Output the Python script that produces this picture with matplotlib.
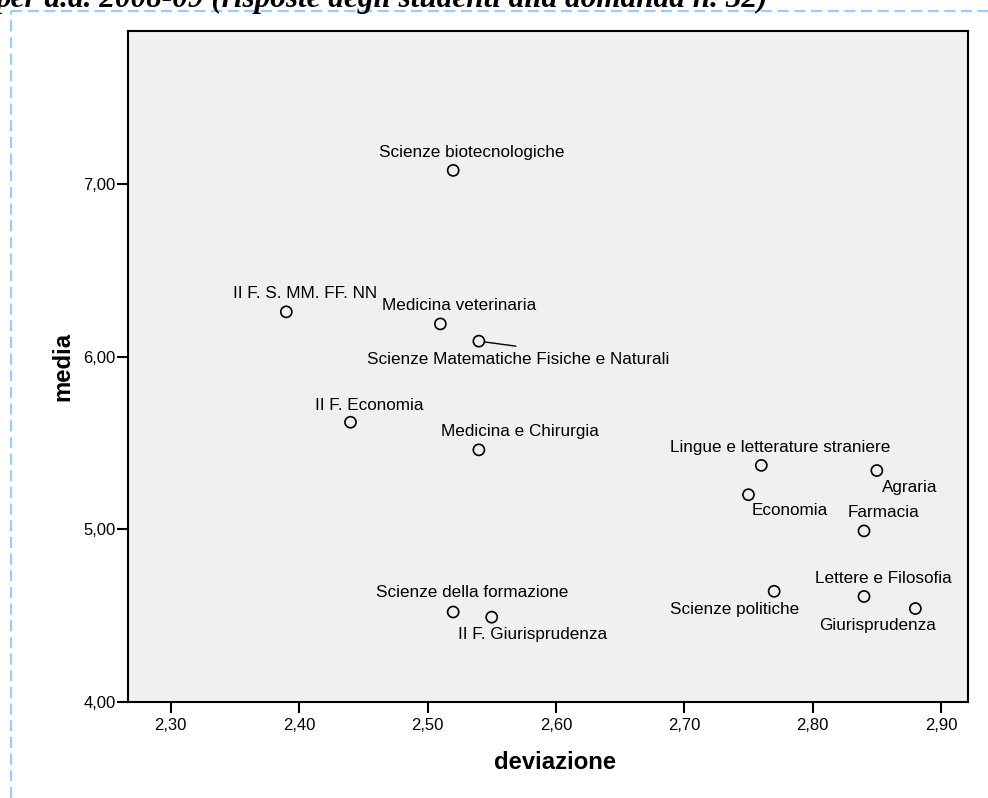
import matplotlib
matplotlib.use("Agg")
import matplotlib.pyplot as plt
from matplotlib.lines import Line2D

plt.rcParams["font.family"] = ["Liberation Sans", "DejaVu Sans"]

# Faculties: deviation (x) and mean score (y)
facolta = ["Scienze biotecnologiche", "II F. S. MM. FF. NN", "Medicina veterinaria",
           "Scienze Matematiche Fisiche e Naturali", "II F. Economia", "Medicina e Chirurgia",
           "Scienze della formazione", "II F. Giurisprudenza", "Lingue e letterature straniere",
           "Agraria", "Economia", "Farmacia", "Scienze politiche", "Lettere e Filosofia",
           "Giurisprudenza"]
deviazione = [2.52, 2.39, 2.51, 2.54, 2.44, 2.54, 2.52, 2.55, 2.76, 2.85, 2.75, 2.84, 2.77, 2.84, 2.88]
media = [7.08, 6.26, 6.19, 6.09, 5.62, 5.46, 4.52, 4.49, 5.37, 5.34, 5.20, 4.99, 4.64, 4.61, 4.54]

# label offsets from the point, in pixels (right, down)
offsets = [(19, -18), (19, -18), (19, -18), (39, 18), (19, -17), (41, -18),
           (19, -19), (41, 17), (19, -18), (33, 17), (41, 16), (19, -18),
           (-40, 18), (19, -18), (-38, 17)]

xticks = [2.30, 2.40, 2.50, 2.60, 2.70, 2.80, 2.90]
yticks = [4.0, 5.0, 6.0, 7.0]

fig = plt.figure(figsize=(9.88, 7.98), dpi=100)
px = 72 / fig.dpi

# dashed frame of the surrounding document and the clipped title
fig.add_artist(Line2D([11 / 988, 1], [1 - 11 / 798] * 2, transform=fig.transFigure,
                      color="#99ccff", lw=1.6, dashes=(5, 2.5)))
fig.add_artist(Line2D([11 / 988] * 2, [0, 1 - 11 / 798], transform=fig.transFigure,
                      color="#99ccff", lw=1.6, dashes=(5, 2.5)))
fig.text(768 / 988, 1 - 7 / 798, "per a.a. 2008-09 (risposte degli studenti alla domanda n. 32)",
         ha="right", va="baseline", fontsize=22.5, fontweight="bold", fontstyle="italic",
         family="Liberation Serif")

ax = fig.add_axes([128 / 988, 1 - 701.7 / 798, 840 / 988, 670.7 / 798])
ax.set_facecolor("#f0f0f0")
ax.scatter(deviazione, media, s=64, facecolors="none", edgecolors="black", linewidths=1.2, zorder=3)

for name, x, y, (dx, dy) in zip(facolta, deviazione, media, offsets):
    ax.annotate(name, (x, y), xytext=(dx * px, -dy * px), textcoords="offset points",
                ha="center", va="center", fontsize=12.3)

# leader line for the label that sits apart from its point
i = facolta.index("Scienze Matematiche Fisiche e Naturali")
ax.annotate("", (deviazione[i], media[i]), xytext=(37 * px, -5 * px), textcoords="offset points",
            arrowprops=dict(arrowstyle="-", color="black", lw=1.0, shrinkA=0, shrinkB=4))

ax.set_xlim(2.2667, 2.921)
ax.set_ylim(4.0, 7.888)
ax.set_xticks(xticks)
ax.set_yticks(yticks)
ax.set_xticklabels([("%.2f" % v).replace(".", ",") for v in xticks])
ax.set_yticklabels([("%.2f" % v).replace(".", ",") for v in yticks])
ax.tick_params(direction="out", length=8, width=1.5, labelsize=12, color="black")
ax.tick_params(axis="x", pad=4)
ax.tick_params(axis="y", pad=1)
for sp in ax.spines.values():
    sp.set_linewidth(1.5)

ax.set_xlabel("deviazione", fontsize=17.2, fontweight="bold")
ax.set_ylabel("media", fontsize=17.2, fontweight="bold")
ax.xaxis.set_label_coords(0.508, -0.074)
ax.yaxis.set_label_coords(-0.064, 0.5)

fig.savefig("out.png", dpi=100)
